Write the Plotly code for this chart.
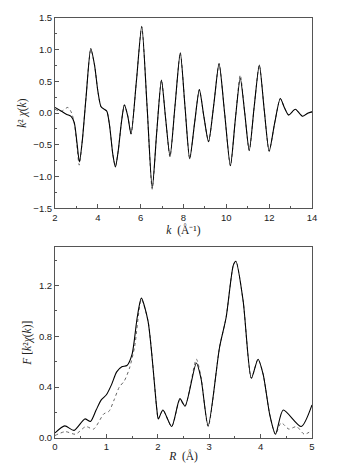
import plotly.graph_objects as go
from plotly.subplots import make_subplots

# ── Data: k-space (k^2 chi(k)) ───────────────────────────────────────────────
k_exp = [2.0, 2.3, 2.55, 2.75, 2.9, 3.02, 3.14, 3.27, 3.45, 3.67, 3.85, 4.0, 4.15,
         4.3, 4.42, 4.55, 4.7, 4.82, 4.95, 5.1, 5.24, 5.4, 5.55, 5.8, 6.05, 6.3,
         6.54, 6.75, 6.97, 7.17, 7.37, 7.6, 7.85, 8.07, 8.29, 8.52, 8.74, 8.95,
         9.17, 9.42, 9.66, 9.92, 10.19, 10.42, 10.65, 10.86, 11.07, 11.3, 11.54,
         11.77, 12.0, 12.26, 12.52, 12.72, 12.91, 13.22, 13.56, 13.8, 14.0]
chi_exp = [0.09, 0.03, -0.02, -0.05, -0.15, -0.45, -0.77, -0.45, 0.25, 1.02, 0.75,
           0.35, 0.1, 0.06, 0.03, -0.2, -0.65, -0.85, -0.6, -0.15, 0.13, -0.05,
           -0.33, 0.5, 1.37, 0.1, -1.18, -0.3, 0.52, -0.1, -0.68, 0.1, 0.95, 0.1,
           -0.72, -0.15, 0.37, -0.05, -0.45, 0.15, 0.78, 0.0, -0.83, -0.1, 0.55,
           0.0, -0.59, 0.1, 0.76, 0.05, -0.6, -0.15, 0.23, 0.08, -0.03, 0.06,
           -0.05, 0.0, 0.02]

k_fit = [2.0, 2.3, 2.6, 2.78, 2.92, 3.02, 3.13, 3.27, 3.45, 3.67, 3.85, 4.0, 4.15,
         4.3, 4.42, 4.55, 4.7, 4.82, 4.95, 5.1, 5.24, 5.4, 5.55, 5.8, 6.05, 6.3,
         6.54, 6.75, 6.97, 7.17, 7.37, 7.6, 7.85, 8.07, 8.29, 8.52, 8.74, 8.95,
         9.17, 9.42, 9.66, 9.92, 10.19, 10.42, 10.65, 10.86, 11.07, 11.3, 11.54,
         11.77, 12.0, 12.26, 12.52, 12.72, 12.91, 13.22, 13.56, 13.8, 14.0]
chi_fit = [0.06, 0.03, 0.09, 0.0, -0.2, -0.5, -0.82, -0.45, 0.25, 1.0, 0.75, 0.35,
           0.1, 0.06, 0.03, -0.2, -0.65, -0.84, -0.6, -0.15, 0.13, -0.05, -0.33,
           0.5, 1.36, 0.1, -1.2, -0.3, 0.52, -0.1, -0.69, 0.1, 0.95, 0.1, -0.72,
           -0.15, 0.37, -0.05, -0.45, 0.15, 0.78, 0.0, -0.83, -0.1, 0.6, 0.0,
           -0.59, 0.1, 0.76, 0.05, -0.6, -0.15, 0.23, 0.08, -0.03, 0.06, -0.05,
           0.0, 0.02]

# ── Data: R-space (Fourier transform magnitude) ──────────────────────────────
r_exp = [0.0, 0.19, 0.37, 0.58, 0.69, 0.8, 0.9, 1.0, 1.1, 1.2, 1.3, 1.4, 1.5, 1.6,
         1.68, 1.81, 1.98, 2.01, 2.1, 2.27, 2.43, 2.53, 2.75, 2.84, 2.98, 3.2,
         3.33, 3.47, 3.52, 3.66, 3.82, 3.95, 4.05, 4.18, 4.29, 4.44, 4.79, 5.0]
ft_exp = [0.04, 0.095, 0.06, 0.15, 0.13, 0.22, 0.3, 0.34, 0.42, 0.52, 0.56, 0.57,
          0.66, 0.95, 1.10, 0.92, 0.23, 0.15, 0.22, 0.09, 0.31, 0.25, 0.59, 0.47,
          0.095, 0.71, 0.95, 1.36, 1.39, 1.08, 0.47, 0.62, 0.50, 0.18, 0.03,
          0.22, 0.09, 0.26]

r_fit = [0.0, 0.2, 0.4, 0.6, 0.75, 0.95, 1.05, 1.15, 1.25, 1.35, 1.45, 1.55, 1.68,
         1.81, 1.98, 2.01, 2.1, 2.27, 2.43, 2.53, 2.75, 2.84, 2.98, 3.2, 3.33,
         3.47, 3.52, 3.66, 3.82, 3.95, 4.05, 4.18, 4.29, 4.4, 4.55, 4.7, 4.85, 5.0]
ft_fit = [0.02, 0.05, 0.03, 0.09, 0.07, 0.19, 0.21, 0.3, 0.4, 0.45, 0.55, 0.72,
          1.09, 0.92, 0.23, 0.15, 0.22, 0.09, 0.30, 0.25, 0.62, 0.48, 0.09, 0.71,
          0.95, 1.36, 1.39, 1.08, 0.47, 0.62, 0.50, 0.18, 0.03, 0.12, 0.07, 0.09,
          0.03, 0.06]

# ── Figure ───────────────────────────────────────────────────────────────────
fig = make_subplots(rows=2, cols=1)
fig.update_layout(
    xaxis=dict(domain=[0, 1]), yaxis=dict(domain=[0.547, 1]),
    xaxis2=dict(domain=[0, 1]), yaxis2=dict(domain=[0, 0.454]),
)

solid = dict(color="black", width=1.1, shape="spline", smoothing=0.7)
dotted = dict(color="#666", width=1, dash="dot", shape="spline", smoothing=0.7)

fig.add_scatter(x=k_fit, y=chi_fit, mode="lines", line=dotted, showlegend=False, row=1, col=1)
fig.add_scatter(x=k_exp, y=chi_exp, mode="lines", line=solid, showlegend=False, row=1, col=1)
fig.add_scatter(x=r_fit, y=ft_fit, mode="lines", line=dotted, showlegend=False, row=2, col=1)
fig.add_scatter(x=r_exp, y=ft_exp, mode="lines", line=solid, showlegend=False, row=2, col=1)

tick_font = dict(family="Arial, Liberation Sans", size=9.5, color="#222")
title_font = dict(family="Times New Roman, Liberation Serif", size=11.5, color="#222")
ax = dict(showline=True, linecolor="#555", linewidth=1, mirror=True,
          ticks="inside", ticklen=4, tickcolor="#555", showgrid=False,
          zeroline=False, tickfont=tick_font, title_font=title_font, automargin=False)

fig.update_xaxes(**ax)
fig.update_yaxes(**ax)

fig.update_xaxes(range=[2, 14], dtick=2, minor=dict(ticks="inside", ticklen=2, dtick=1, tickcolor="#555"),
                 title_text="<i>k</i>  (Å⁻¹)", title_standoff=0, row=1, col=1)
fig.update_yaxes(range=[-1.5, 1.5], dtick=0.5, tickformat=".1f",
                 minor=dict(ticks="inside", ticklen=2, dtick=0.25, tickcolor="#555"),
                 title_text="<i>k</i>² <i>χ</i>(<i>k</i>)", title_standoff=4, row=1, col=1)
fig.update_xaxes(range=[0, 5], dtick=1, minor=dict(ticks="inside", ticklen=2, dtick=0.5, tickcolor="#555"),
                 title_text="<i>R</i>  (Å)", title_standoff=0, row=2, col=1)
fig.update_yaxes(range=[0, 1.5], tickvals=[0, 0.4, 0.8, 1.2], tickformat=".1f",
                 minor=dict(ticks="inside", ticklen=2, tickvals=[0.2, 0.6, 1.0, 1.4], tickcolor="#555"),
                 title_text="<i>F</i> [<i>k</i>²<i>χ</i>(<i>k</i>)]", title_standoff=4, row=2, col=1)

# page body has an 8px default margin, so shift the plot area up/left by 8px
fig.update_layout(width=339, height=475, margin=dict(l=47, r=35, t=10, b=45),
                  plot_bgcolor="white", paper_bgcolor="white")
fig.write_html("out.html")
